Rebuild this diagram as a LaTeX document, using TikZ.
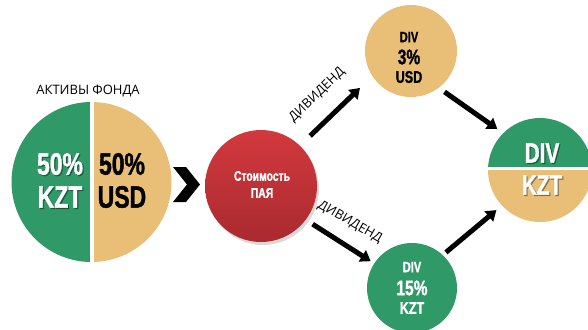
\documentclass[tikz,border=0pt]{standalone}
\usepackage{fontspec}
\setmainfont{Open Sans}
\newfontfamily\cond{Liberation Sans}[FakeStretch=0.74,FakeBold=1.2]
\usetikzlibrary{arrows.meta}
\definecolor{fgreen}{HTML}{2F9A68}
\definecolor{ftan}{HTML}{E9BF78}
\definecolor{fredL}{HTML}{D2393E}
\definecolor{fredD}{HTML}{A92A2F}
\newcommand{\fsz}[1]{\fontsize{#1}{#1}\selectfont}
\begin{document}
\begin{tikzpicture}[x=1pt,y=-1pt,
  disc/.style={circle,inner sep=0pt,minimum size=#1},
  heavy/.style={font=\cond\bfseries\fsz{#1},inner sep=0pt},
  lbl/.style={font=\fsz{13},inner sep=0pt},
  flow/.style={line width=5pt,-{Triangle[width=13pt,length=10pt]}},
  shadowtxt/.style={text=black,opacity=0.35},
]
\useasboundingbox (0,0) rectangle (588,329);
% --- fund assets pie
\node[disc=160pt] (pie) at (91.5,182) {};
\begin{scope}
  \clip (0,0) rectangle (91.5,329);
  \fill[fgreen] (pie.center) circle[radius=80];
\end{scope}
\begin{scope}
  \clip (91.5,0) rectangle (300,329);
  \fill[ftan] (pie.center) circle[radius=80];
\end{scope}
\fill[white] (90,100) rectangle (93.5,265);
\node[lbl] (assets) at (88,91) {АКТИВЫ ФОНДА};
\node[heavy=31,shadowtxt] (kzt1s) at (61.2,165.2) {50\%};
\node[heavy=31,shadowtxt] (kzt2s) at (61.2,198.2) {KZT};
\node[heavy=31,text=white] (kzt1) at (60,164) {50\%};
\node[heavy=31,text=white] (kzt2) at (60,197) {KZT};
\node[heavy=31] (usd1) at (122,164) {50\%};
\node[heavy=31] (usd2) at (122,197) {USD};
% chevron
\fill[black] (173,167) -- (186,167) -- (200,184.5) -- (186,202) -- (173,202) -- (187,184.5) -- cycle;
% --- unit value
\fill[black,opacity=0.15] (263,189) circle[radius=56];
\shade[top color=fredL,bottom color=fredD] (261,186) circle[radius=56];
\node[disc=112pt] (red) at (261,186) {};
\node[heavy=14,text=white] (red1) at (262,176) {Стоимость};
\node[heavy=14,text=white] (red2) at (262,193) {ПАЯ};
% --- DIV 3% USD
\node[disc=92pt,fill=ftan] (div3) at (411,51) {};
\node[heavy=15] (d3a) at (409,37) {DIV};
\node[heavy=21] (d3b) at (409,57) {3\%};
\node[heavy=17] (d3c) at (409,77) {USD};
% --- DIV 15% KZT
\node[disc=90pt,fill=fgreen] (div15) at (412,288) {};
\node[heavy=15,text=white] (d15a) at (412,267) {DIV};
\node[heavy=21,text=white] (d15b) at (412,288) {15\%};
\node[heavy=17,text=white] (d15c) at (412,308) {KZT};
% --- DIV KZT
\node[disc=104pt] (divk) at (540,170) {};
\begin{scope}
  \clip (divk.center) circle[radius=52];
  \fill[fgreen] (480,100) rectangle (600,168);
  \fill[ftan] (480,168) rectangle (600,240);
  \fill[white] (480,167) rectangle (600,169.5);
\end{scope}
\node[heavy=28,shadowtxt] (divktops) at (543.2,154.2) {DIV};
\node[heavy=28,shadowtxt] (divkbots) at (543.2,186.2) {KZT};
\node[heavy=28,text=white] (divktop) at (542,153) {DIV};
\node[heavy=28,text=white] (divkbot) at (542,185) {KZT};
% --- arrows
\draw[flow,shorten <=14pt,shorten >=17pt] (red.46) -- (div3.213);
\draw[flow,shorten <=8pt,shorten >=4pt] (red.-37) -- (div15.147);
\draw[flow,shorten <=7pt,shorten >=7pt] (div3.-53) -- (divk.135);
\draw[flow,shorten <=4pt,shorten >=7pt] (div15.47) -- (divk.223);
\node[lbl,rotate=44] (divid1) at (317,95) {ДИВИДЕНД};
\node[lbl,rotate=-30] (divid2) at (350,222) {ДИВИДЕНД};
\end{tikzpicture}
\end{document}
